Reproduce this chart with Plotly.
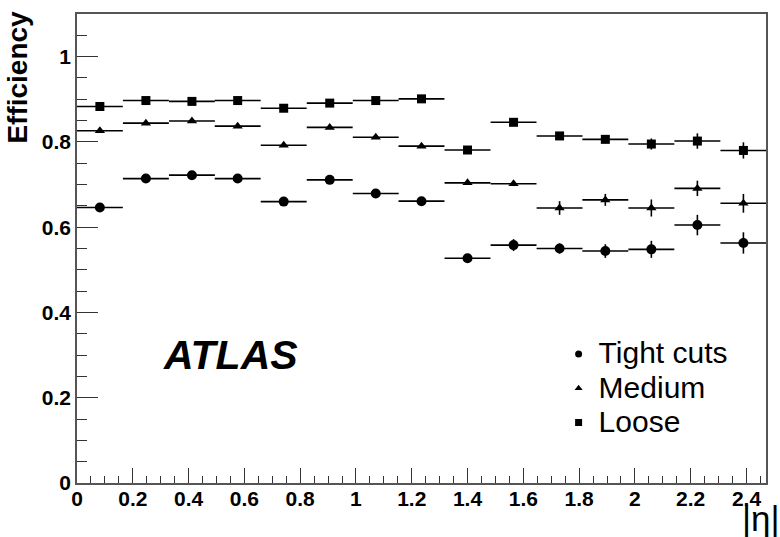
import plotly.graph_objects as go

# |eta| bin centres and half widths
eta_centers = [0.082, 0.247, 0.412, 0.576, 0.741, 0.906, 1.071, 1.235,
               1.400, 1.565, 1.730, 1.894, 2.059, 2.224, 2.389]
eta_halfwidth = [0.0823] * 15

# efficiencies per selection
tight = [0.646, 0.714, 0.722, 0.714, 0.660, 0.711, 0.679, 0.661,
         0.527, 0.558, 0.550, 0.544, 0.548, 0.605, 0.563]
tight_err = [0.004, 0.004, 0.004, 0.004, 0.004, 0.004, 0.004, 0.004,
             0.005, 0.014, 0.012, 0.016, 0.020, 0.024, 0.025]

medium = [0.826, 0.844, 0.849, 0.837, 0.792, 0.834, 0.811, 0.790,
          0.704, 0.702, 0.645, 0.664, 0.645, 0.691, 0.656]
medium_err = [0.003, 0.003, 0.003, 0.003, 0.003, 0.003, 0.003, 0.003,
              0.004, 0.005, 0.016, 0.014, 0.020, 0.018, 0.022]

loose = [0.883, 0.897, 0.895, 0.897, 0.879, 0.891, 0.897, 0.901,
         0.781, 0.846, 0.814, 0.806, 0.795, 0.802, 0.780]
loose_err = [0.003, 0.003, 0.003, 0.003, 0.003, 0.003, 0.003, 0.003,
             0.004, 0.005, 0.006, 0.009, 0.013, 0.018, 0.019]

series = [
    ("Tight cuts", tight, tight_err, "circle", 10),
    ("Medium", medium, medium_err, "triangle-up", 9),
    ("Loose", loose, loose_err, "square", 9),
]

FONT = "Liberation Sans, Arial, sans-serif"

fig = go.Figure()

for name, vals, errs, sym, size in series:
    fig.add_trace(go.Scatter(
        x=eta_centers, y=vals, mode="markers", name=name, showlegend=False,
        marker=dict(symbol=sym, size=size, color="black"),
        error_x=dict(type="data", array=eta_halfwidth, symmetric=True,
                     thickness=1.6, width=0, color="black"),
        error_y=dict(type="data", array=errs, symmetric=True,
                     thickness=1.6, width=0, color="black"),
    ))

# legend entries with smaller markers; larger label text, compact rows
for name, vals, errs, sym, size in series:
    fig.add_trace(go.Scatter(
        x=[None], y=[None], mode="markers",
        name=f"<span style='font-size:30px'>{name}</span>", showlegend=True,
        marker=dict(symbol=sym, size=7, color="black"),
    ))

axis_common = dict(
    showline=True, mirror=True, linecolor="#555555", linewidth=1.5,
    showgrid=False, zeroline=False, ticks="inside", tickcolor="#333333",
    tickwidth=1.3,
    tickfont=dict(family=FONT, size=21, color="black", weight="bold"),
)

fig.update_xaxes(
    range=[0, 2.47], tick0=0, dtick=0.2, ticklen=15,
    minor=dict(dtick=0.05, ticks="inside", ticklen=7, tickcolor="#333333",
               tickwidth=1.3),
    ticklabelstandoff=-4,
    **axis_common,
)
fig.update_yaxes(
    range=[0, 1.1], tick0=0, dtick=0.2, ticklen=21,
    minor=dict(dtick=0.05, ticks="inside", ticklen=10, tickcolor="#333333",
               tickwidth=1.3),
    ticklabelstandoff=0,
    **axis_common,
)

fig.add_annotation(
    text="Efficiency", textangle=-90, xref="paper", yref="paper",
    x=-0.086, y=0.866, xanchor="center", yanchor="middle", showarrow=False,
    font=dict(family=FONT, size=28, color="black", weight="bold"),
)
fig.add_annotation(
    text="|η|", xref="paper", yref="paper", x=0.993, y=-0.076,
    xanchor="center", yanchor="middle", showarrow=False,
    font=dict(family=FONT, size=35, color="black"),
)
fig.add_annotation(
    text="ATLAS", xref="paper", yref="paper", x=0.223, y=0.273,
    xanchor="center", yanchor="middle", showarrow=False,
    font=dict(family=FONT, size=41, color="black", weight="bold",
              style="italic"),
)

fig.update_layout(
    width=780, height=537, autosize=False,
    margin=dict(l=77, r=12, t=14, b=54),
    paper_bgcolor="white", plot_bgcolor="white",
    legend=dict(
        x=0.699, y=0.322, xanchor="left", yanchor="top",
        bgcolor="rgba(0,0,0,0)", borderwidth=0,
        font=dict(family=FONT, size=24, color="black"),
        tracegroupgap=0, itemwidth=30,
    ),
)

fig.write_html("out.html")
